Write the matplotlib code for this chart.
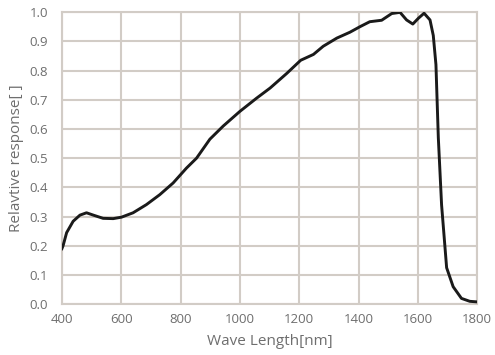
# Spectral response curve (relative response vs wavelength)
import matplotlib
matplotlib.use("Agg")
import matplotlib.pyplot as plt

# values
wave_nm = [400, 404, 416, 438, 461, 483, 506, 539, 573, 601, 640, 685, 730, 775,
           820, 854, 899, 944, 1000, 1056, 1102, 1158, 1205, 1248, 1281, 1327,
           1371, 1405, 1438, 1478, 1512, 1540, 1562, 1583, 1602, 1621, 1641,
           1652, 1661, 1669, 1680, 1697, 1719, 1747, 1775, 1800]
response = [0.19, 0.20, 0.245, 0.284, 0.305, 0.313, 0.305, 0.294, 0.293, 0.298,
            0.313, 0.341, 0.375, 0.415, 0.466, 0.50, 0.565, 0.61, 0.66, 0.705,
            0.74, 0.79, 0.835, 0.855, 0.883, 0.911, 0.931, 0.95, 0.967, 0.972,
            0.995, 0.999, 0.973, 0.959, 0.979, 0.996, 0.973, 0.92, 0.82, 0.57,
            0.34, 0.125, 0.06, 0.02, 0.01, 0.008]

x_ticks = [400, 600, 800, 1000, 1200, 1400, 1600, 1800]
y_ticks = [0.0, 0.1, 0.2, 0.3, 0.4, 0.5, 0.6, 0.7, 0.8, 0.9, 1.0]

grid_col = "#d2ccc6"
text_col = "#6e6e6e"
plt.rcParams["font.family"] = ["Open Sans", "DejaVu Sans"]

fig = plt.figure(figsize=(4.95, 3.55), dpi=100)
ax = fig.add_axes([0.125, 0.143, 0.839, 0.823])

ax.plot(wave_nm, response, color="#1a1a1a", lw=2.1, solid_joinstyle="round", zorder=3)

ax.set_xlim(400, 1800)
ax.set_ylim(0, 1.0)
ax.set_xticks(x_ticks)
ax.set_yticks(y_ticks)
ax.set_yticklabels([f"{v:.1f}" for v in y_ticks])
ax.grid(True, color=grid_col, lw=1.5)
ax.set_axisbelow(True)
for s in ax.spines.values():
    s.set_color(grid_col)
    s.set_linewidth(1.5)
ax.tick_params(length=0, labelsize=9.5, colors=text_col)
ax.tick_params(axis="y", pad=10)
ax.tick_params(axis="x", pad=6)

ax.set_xlabel("Wave Length[nm]", fontsize=11, color=text_col, labelpad=6)
ax.set_ylabel("Relavtive response[ ]", fontsize=11, color=text_col, labelpad=4)

fig.savefig("out.png", dpi=100)
